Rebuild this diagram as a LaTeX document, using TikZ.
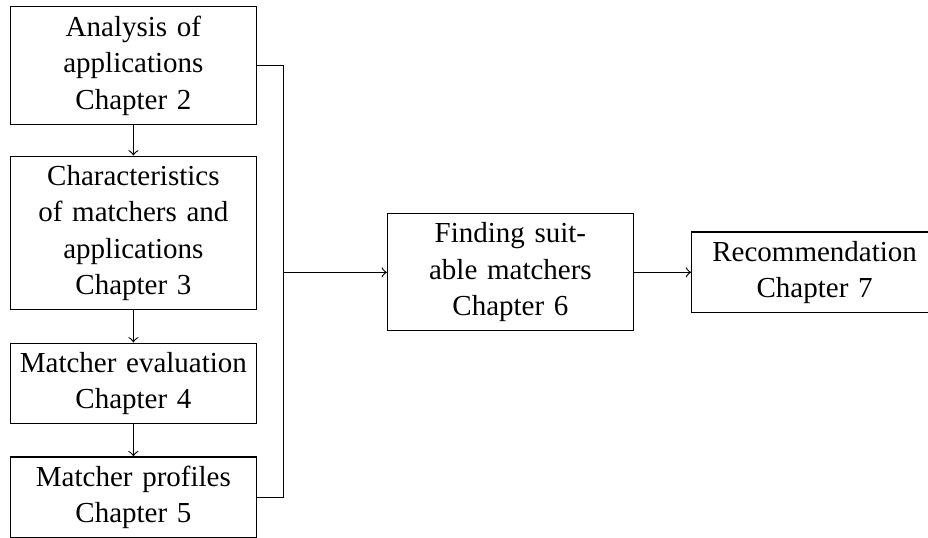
\documentclass[tikz,border=0pt]{standalone}
\usepackage{fontspec}
\setmainfont{Liberation Serif}
\usetikzlibrary{calc}
\usetikzlibrary{positioning}
\providecommand*{\pgfmathsetnewmacro}[2]{%
    \newcommand*{#1}{}%
    \pgfmathsetmacro{#1}{#2}%
}

\begin{document}
\begin{tikzpicture}[black, >=to, font=\fontsize{10}{12.6}\selectfont,
        chapter/.style = {draw, align=center, text width=80.8pt, inner xsep=2pt, inner ysep=3.05pt},
        node distance = 11.1pt]
    \pgfmathsetnewmacro{\ww}{320}
    \pgfmathsetnewmacro{\hh}{185.2}
    \useasboundingbox[clip] (0,0) rectangle (\ww pt,-\hh pt);


    \node (A) [chapter] at (46pt,-22.6pt) {Analysis of\\applications\\Chapter 2};
    \node (C) [chapter, below = 10.6pt of A] {Characteristics\\of matchers and\\applications\\Chapter 3};
    \node (M) [chapter, below = of C] {Matcher evaluation\\Chapter 4};
    \node (P) [chapter, below = of M] {Matcher profiles\\Chapter 5};

    \coordinate (mid) at ($(A.north)!0.5!(P.south)$);
    \coordinate (J) at ($(A.east |- mid) + (9.3pt,0)$);

    \node (F) [chapter, right = 35.5pt of J] {Finding suit-\\able matchers\\Chapter 6};
    \node (R) [chapter, right = 19.7pt of F] {Recommendation\\Chapter 7};


    \draw[->] (A) -- (C);
    \draw[->] (C) -- (M);
    \draw[->] (M) -- (P);
    \draw (A.east) -| (J) |- (P.east);
    \draw[->] (J) -- (F);
    \draw[->] (F) -- (R);

\end{tikzpicture}
\end{document}
